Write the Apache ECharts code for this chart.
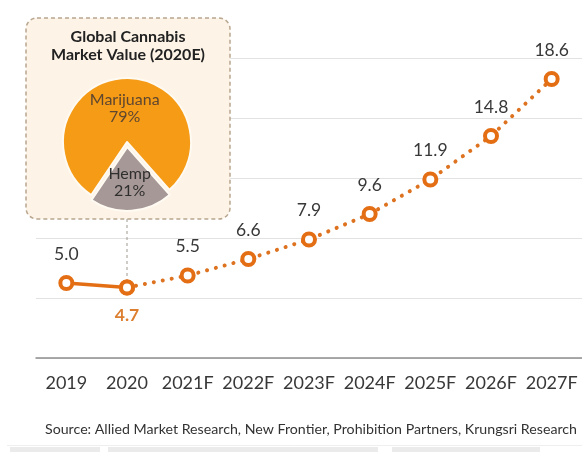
<!DOCTYPE html>
<html>
<head>
<meta charset="utf-8">
<script src="https://cdn.jsdelivr.net/npm/echarts@6/dist/echarts.min.js"></script>
<style>
  html, body { margin: 0; padding: 0; background: #ffffff; }
  #chart { width: 582px; height: 452px; }
</style>
</head>
<body>
<div id="chart"></div>
<script>
// Global cannabis market value (USD bn), actual then forecast
const categories = ['2019', '2020', '2021F', '2022F', '2023F', '2024F', '2025F', '2026F', '2027F'];
const marketValue = [5.0, 4.7, 5.5, 6.6, 7.9, 9.6, 11.9, 14.8, 18.6];
const actualYears = 2;            // 2019 and 2020 are actual figures
const yAxisMax = 20;
const yAxisStep = 4;

// Market split for 2020E
const shareNames = ['Marijuana', 'Hemp'];
const shareValues = [79, 21];

const insetTitle = 'Global Cannabis\nMarket Value (2020E)';
const sourceNote = 'Source: Allied Market Research, New Frontier, Prohibition Partners, Krungsri Research';

const FONT = 'Lato, "Open Sans", sans-serif';
const LINE_COLOR = '#E46E14';
const TEXT_COLOR = '#383838';

const chart = echarts.init(document.getElementById('chart'), null, { renderer: 'canvas' });

const lastActual = actualYears - 1;
const actualData = marketValue.map((v, i) => {
  if (i >= actualYears) return null;
  const item = { value: v };
  if (i === lastActual) {
    item.label = {
      show: true, position: 'bottom', distance: 11,
      fontWeight: 'bold', color: '#DC7F30'
    };
  }
  return item;
});
const forecastData = marketValue.map((v, i) => {
  if (i < lastActual) return null;
  const item = { value: v };
  if (i === lastActual) item.label = { show: false };
  return item;
});

const valueLabel = {
  show: true,
  position: 'top',
  distance: 12,
  fontFamily: FONT,
  fontSize: 17.5,
  color: TEXT_COLOR,
  formatter: p => Number(p.value).toFixed(1)
};

const markerStyle = {
  color: '#ffffff',
  borderColor: LINE_COLOR,
  borderWidth: 4
};

const boxX = 26, boxY = 18, boxW = 204, boxH = 201;
const pieCenter = [127, 142];

// Faint strip along the bottom edge of the panel
const footerBlocks = [[10, 100], [108, 378], [392, 540]].map(([x0, x1]) => ({
  type: 'rect',
  z: 0,
  shape: { x: x0, y: 447, width: x1 - x0, height: 5 },
  style: { fill: '#ebebeb' }
}));

chart.setOption({
  animation: false,
  backgroundColor: '#ffffff',
  grid: { left: 36, right: 0, top: 58, bottom: 94, containLabel: false },
  xAxis: {
    type: 'category',
    data: categories,
    boundaryGap: true,
    axisLine: { show: true, lineStyle: { color: '#8f8f8f', width: 1.5 } },
    axisTick: { show: false },
    axisLabel: {
      margin: 16, fontFamily: FONT, fontSize: 18, color: TEXT_COLOR, interval: 0
    },
    splitLine: { show: false }
  },
  yAxis: {
    type: 'value',
    min: 0, max: yAxisMax, interval: yAxisStep,
    axisLine: { show: false },
    axisTick: { show: false },
    axisLabel: { show: false },
    splitLine: { show: true, lineStyle: { color: '#e2e2e2', width: 1 } }
  },
  series: [
    {
      name: 'Actual',
      type: 'line',
      data: actualData,
      z: 3,
      symbol: 'circle',
      symbolSize: 12,
      showSymbol: true,
      itemStyle: markerStyle,
      lineStyle: { color: LINE_COLOR, width: 3.5 },
      label: Object.assign({}, valueLabel),
      connectNulls: false
    },
    {
      name: 'Forecast',
      type: 'line',
      data: forecastData,
      z: 2,
      symbol: 'circle',
      symbolSize: 12,
      itemStyle: markerStyle,
      lineStyle: { color: '#DD7320', width: 4, type: [0.1, 9], cap: 'round' },
      label: valueLabel
    },
    {
      name: 'Market split 2020E',
      type: 'pie',
      z: 5,
      center: pieCenter,
      radius: [0, 64],
      startAngle: 236,
      clockwise: true,
      selectedMode: 'single',
      selectedOffset: 5,
      silent: true,
      label: {
        show: true,
        position: 'inside',
        fontFamily: FONT,
        fontSize: 16,
        lineHeight: 17,
        formatter: p => p.name + '\n' + p.value + '%'
      },
      labelLine: { show: false },
      itemStyle: { borderColor: '#fffaf2', borderWidth: 2 },
      data: [
        {
          name: shareNames[0], value: shareValues[0],
          itemStyle: { color: '#F59B16' },
          label: { color: '#5e4630', offset: [0, 1] }
        },
        {
          name: shareNames[1], value: shareValues[1], selected: true,
          itemStyle: { color: '#A69896' },
          label: { color: '#2f2f2f', offset: [0, 10] }
        }
      ]
    }
  ],
  graphic: [
    {
      type: 'line',
      z: 0,
      shape: { x1: 7, y1: 445.5, x2: 582, y2: 445.5 },
      style: { stroke: '#efefef', lineWidth: 1 }
    },
    ...footerBlocks,
    {
      type: 'rect',
      id: 'insetBox',
      z: 1,
      shape: { x: boxX, y: boxY, width: boxW, height: boxH, r: 11 },
      style: {
        fill: '#FDF3E7',
        stroke: '#B8A68E',
        lineWidth: 1.5,
        lineDash: [4, 3]
      }
    },
    {
      type: 'text',
      z: 4,
      x: boxX + boxW / 2,
      y: 28,
      style: {
        text: insetTitle,
        fontFamily: FONT,
        fontSize: 16,
        fontWeight: 'bold',
        lineHeight: 18,
        fill: '#222222',
        textAlign: 'center',
        textVerticalAlign: 'top'
      }
    },
    {
      type: 'text',
      z: 4,
      x: 45,
      y: 429,
      style: {
        text: sourceNote,
        fontFamily: FONT,
        fontSize: 14.2,
        fill: '#333333',
        textAlign: 'left',
        textVerticalAlign: 'middle'
      }
    }
  ]
});

// Dashed leader from the inset down to the 2020 point
const p2020 = chart.convertToPixel({ gridIndex: 0 }, [lastActual, marketValue[lastActual]]);
chart.setOption({
  graphic: [
    {
      type: 'line',
      id: 'leader',
      z: 1,
      shape: { x1: p2020[0], y1: boxY + boxH, x2: p2020[0], y2: p2020[1] },
      style: { stroke: '#a09a92', lineWidth: 1, lineDash: [3, 3] }
    }
  ]
});
</script>
</body>
</html>
